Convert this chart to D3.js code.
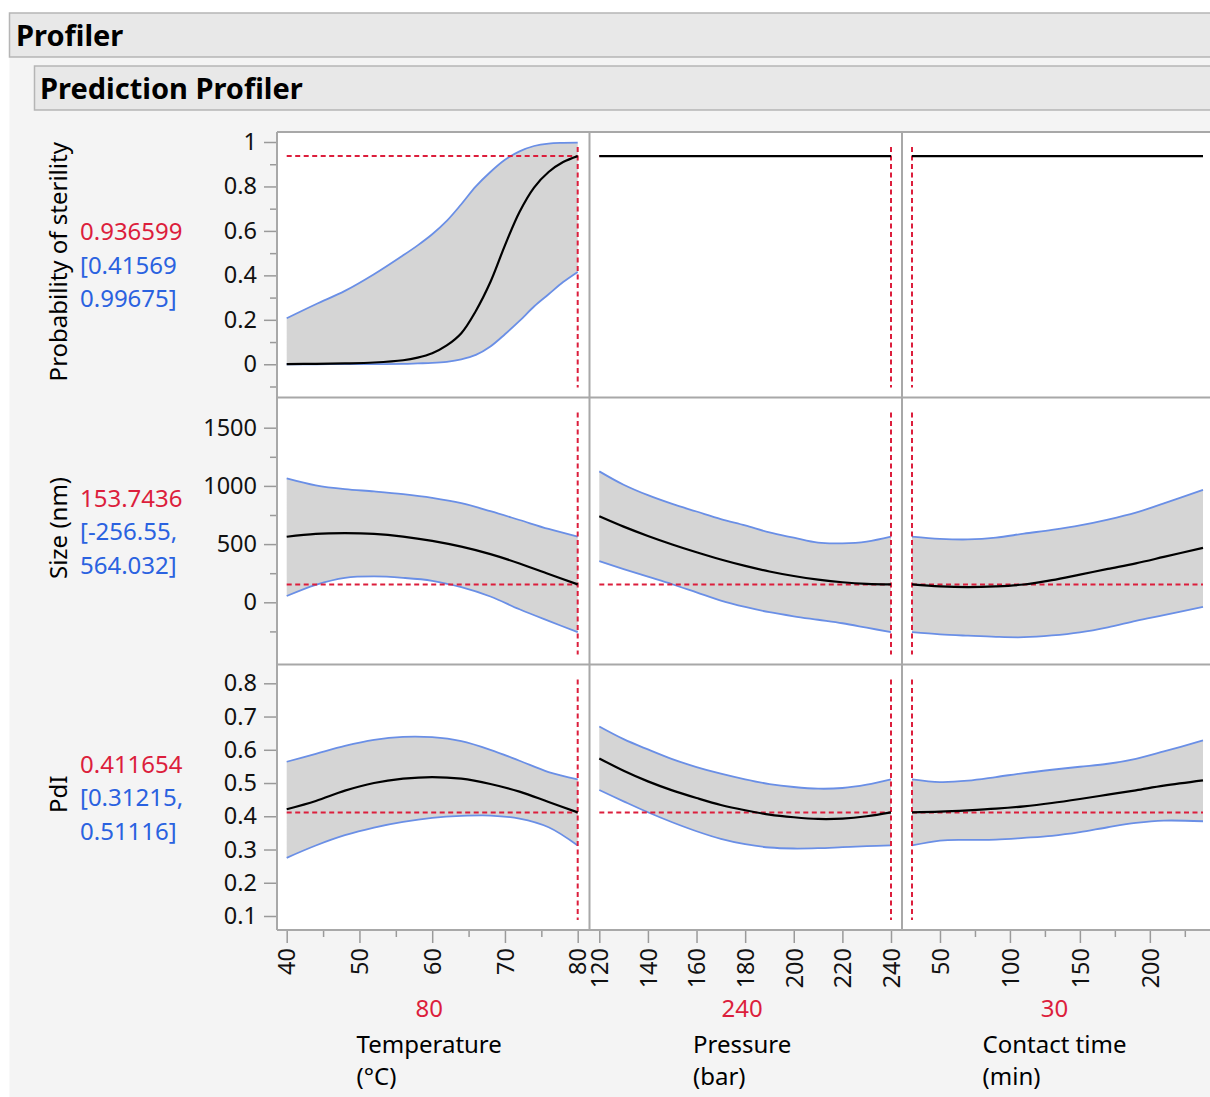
<!DOCTYPE html>
<html>
<head>
<meta charset="utf-8">
<script src="https://cdn.jsdelivr.net/npm/d3@7"></script>
<style>
  body { margin: 0; background: #fff; }
  text { font-family: "Noto Sans", "Open Sans", sans-serif; }
</style>
</head>
<body>
<div id="chart"></div>
<script>
var factors = ["Temperature", "Pressure", "Contact time"],
    factorUnits = ["(°C)", "(bar)", "(min)"],
    factorCurrent = ["80", "240", "30"],
    responses = ["Probability of sterility", "Size (nm)", "PdI"],
    responseValue = [0.936599, 153.7436, 0.411654],
    responseText = ["0.936599", "153.7436", "0.411654"],
    responseCI = [["[0.41569", "0.99675]"], ["[-256.55,", "564.032]"], ["[0.31215,", "0.51116]"]];

// probability of sterility vs temperature
var probTempX = [40, 44, 48, 52, 56, 58, 60, 62, 64, 66, 68, 70, 72, 74, 76, 78, 80];
var probTempMid = [0.001, 0.002, 0.004, 0.008, 0.018, 0.03, 0.05, 0.085, 0.14, 0.24, 0.37, 0.535, 0.685, 0.795, 0.865, 0.91, 0.936599];
var probTempLo = [0.0, 0.0, 0.001, 0.001, 0.002, 0.004, 0.006, 0.011, 0.022, 0.042, 0.08, 0.135, 0.195, 0.26, 0.315, 0.37, 0.41569];
var probTempHi = [0.207, 0.27, 0.33, 0.405, 0.49, 0.535, 0.585, 0.645, 0.72, 0.80, 0.865, 0.92, 0.958, 0.982, 0.993, 0.996, 0.99675];
// probability is flat in pressure and contact time
var probPressX = [120, 240], probPressMid = [0.936599, 0.936599];
var probContX = [30, 238], probContMid = [0.936599, 0.936599];

var tempX = [40, 44, 48, 52, 56, 60, 64, 68, 72, 76, 80];
var pressX = [120, 130, 140, 150, 160, 170, 180, 190, 200, 210, 220, 230, 240];
var contX = [30, 50, 70, 90, 110, 130, 150, 170, 190, 210, 238];

// size (nm)
var sizeTempMid = [563, 588, 594, 588, 565, 528, 478, 414, 334, 243, 153.7];
var sizeTempLo = [54, 150, 210, 222, 210, 185, 130, 50, -60, -160, -256.55];
var sizeTempHi = [1065, 1005, 972, 953, 930, 898, 852, 783, 707, 630, 564.03];
var sizePressMid = [739, 650, 570, 497, 430, 368, 313, 265, 226, 195, 172, 158, 153.7];
var sizePressLo = [353, 285, 220, 155, 85, 15, -40, -85, -120, -150, -180, -218, -256.55];
var sizePressHi = [1125, 1010, 920, 845, 780, 715, 660, 600, 555, 512, 507, 522, 564.03];
var sizeContMid = [153.7, 137, 131, 137, 153, 190, 238, 287, 335, 390, 468];
var sizeContLo = [-256.55, -275, -287, -297, -300, -285, -258, -215, -160, -110, -39];
var sizeContHi = [564.03, 545, 540, 555, 590, 622, 660, 710, 770, 850, 965];

// PdI
var pdiTempMid = [0.421, 0.446, 0.477, 0.500, 0.513, 0.518, 0.513, 0.497, 0.474, 0.443, 0.4117];
var pdiTempLo = [0.275, 0.312, 0.343, 0.366, 0.383, 0.395, 0.401, 0.402, 0.393, 0.367, 0.31215];
var pdiTempHi = [0.564, 0.588, 0.612, 0.630, 0.639, 0.638, 0.626, 0.600, 0.567, 0.533, 0.51116];
var pdiPressMid = [0.574, 0.537, 0.505, 0.478, 0.455, 0.434, 0.418, 0.405, 0.397, 0.392, 0.393, 0.400, 0.4117];
var pdiPressLo = [0.479, 0.445, 0.412, 0.382, 0.355, 0.332, 0.316, 0.306, 0.303, 0.304, 0.307, 0.310, 0.31215];
var pdiPressHi = [0.670, 0.632, 0.601, 0.572, 0.548, 0.528, 0.511, 0.497, 0.488, 0.483, 0.485, 0.495, 0.51116];
var pdiContMid = [0.4117, 0.414, 0.418, 0.423, 0.430, 0.440, 0.452, 0.465, 0.478, 0.492, 0.508];
var pdiContLo = [0.31215, 0.327, 0.329, 0.330, 0.335, 0.341, 0.352, 0.367, 0.380, 0.387, 0.385];
var pdiContHi = [0.51116, 0.503, 0.507, 0.518, 0.530, 0.540, 0.549, 0.558, 0.573, 0.595, 0.628];

// axes
var xDomains = [[40, 80], [120, 240], [30, 238]],
    xTicks = [[40, 50, 60, 70, 80], [120, 140, 160, 180, 200, 220, 240], [50, 100, 150, 200]],
    xMinor = [[45, 55, 65, 75], [], [75, 125, 175, 225]],
    yDomains = [[-0.1, 1.0], [-250, 1500], [0.1, 0.8]],
    yTicks = [[0, 0.2, 0.4, 0.6, 0.8, 1], [0, 500, 1000, 1500], [0.1, 0.2, 0.3, 0.4, 0.5, 0.6, 0.7, 0.8]],
    yMinor = [[-0.1, 0.1, 0.3, 0.5, 0.7, 0.9], [-250, 250, 750, 1250], []];

// ---- layout ----
var width = 1210, height = 1097,
    colEdges = [277, 589.5, 902, 1216],
    rowEdges = [132, 397.5, 664.5, 930],
    xRanges = [[286.7, 577.7], [599.3, 891], [912, 1203]],
    yRanges = [[386.5, 142], [631.4, 427.7], [916, 683.3]],
    red = "#dc1e3c", blue = "#2a62e0", bandBlue = "#6a8fe6", frameGray = "#a8a8a8";

function zip(xs, ys) { return xs.map(function(x, i) { return [x, ys[i]]; }); }
function band(xs, lo, hi) { return xs.map(function(x, i) { return { x: x, lo: lo[i], hi: hi[i] }; }); }

var panels = [
  [ { x: probTempX, mid: probTempMid, lo: probTempLo, hi: probTempHi },
    { x: probPressX, mid: probPressMid },
    { x: probContX, mid: probContMid } ],
  [ { x: tempX, mid: sizeTempMid, lo: sizeTempLo, hi: sizeTempHi },
    { x: pressX, mid: sizePressMid, lo: sizePressLo, hi: sizePressHi },
    { x: contX, mid: sizeContMid, lo: sizeContLo, hi: sizeContHi } ],
  [ { x: tempX, mid: pdiTempMid, lo: pdiTempLo, hi: pdiTempHi },
    { x: pressX, mid: pdiPressMid, lo: pdiPressLo, hi: pdiPressHi },
    { x: contX, mid: pdiContMid, lo: pdiContLo, hi: pdiContHi } ]
];

var xScales = xDomains.map(function(d, i) { return d3.scaleLinear().domain(d).range(xRanges[i]); });
var yScales = yDomains.map(function(d, i) { return d3.scaleLinear().domain(d).range(yRanges[i]); });

var svg = d3.select("#chart").append("svg")
    .attr("width", width)
    .attr("height", height);

// backgrounds and header boxes
svg.append("rect").attr("x", 0).attr("y", 0).attr("width", width).attr("height", height).style("fill", "#fff");
svg.append("rect").attr("x", 9.5).attr("y", 13).attr("width", width).attr("height", height).style("fill", "#f4f4f4");
svg.append("rect").attr("x", 9.5).attr("y", 13).attr("width", width + 5).attr("height", 44)
    .style("fill", "#e8e8e8").style("stroke", "#b5b5b5").style("stroke-width", 1.5);
svg.append("rect").attr("x", 34.5).attr("y", 66).attr("width", width).attr("height", 44)
    .style("fill", "#e8e8e8").style("stroke", "#b5b5b5").style("stroke-width", 1.5);
svg.append("text").text("Profiler").attr("x", 16).attr("y", 46)
    .style("font-size", "29px").style("font-weight", "bold");
svg.append("text").text("Prediction Profiler").attr("x", 40).attr("y", 99)
    .style("font-size", "29px").style("font-weight", "bold");

// white plot area
svg.append("rect")
    .attr("x", colEdges[0]).attr("y", rowEdges[0])
    .attr("width", colEdges[3] - colEdges[0]).attr("height", rowEdges[3] - rowEdges[0])
    .style("fill", "#fff");

var smooth = d3.curveCatmullRom.alpha(0.5);
var area = d3.area().curve(smooth);
var line = d3.line().curve(smooth);

function styleAxis(g) {
  g.selectAll(".domain").remove();
  g.selectAll("line").style("stroke", "#9a9a9a").style("stroke-width", 1.5);
  g.selectAll("text").style("font-size", "23.5px").style("fill", "#111")
      .style("font-family", '"Noto Sans", sans-serif');
}

panels.forEach(function(row, r) {
  var y = yScales[r];
  row.forEach(function(p, c) {
    var x = xScales[c];
    var g = svg.append("g").attr("class", "panel");

    if (p.lo) {
      var pts = band(p.x, p.lo, p.hi);
      g.append("path")
          .attr("d", area.x(function(d) { return x(d.x); }).y0(function(d) { return y(d.lo); }).y1(function(d) { return y(d.hi); })(pts))
          .style("fill", "#d5d5d5");
      [p.lo, p.hi].forEach(function(s) {
        g.append("path")
            .attr("d", line.x(function(d) { return x(d[0]); }).y(function(d) { return y(d[1]); })(zip(p.x, s)))
            .style("fill", "none").style("stroke", bandBlue).style("stroke-width", 1.8);
      });
    }

    // current-setting cross hairs
    g.append("line")
        .attr("x1", x(xDomains[c][0])).attr("x2", x(p.x[p.x.length - 1]))
        .attr("y1", y(responseValue[r])).attr("y2", y(responseValue[r]))
        .style("stroke", red).style("stroke-width", 2).style("stroke-dasharray", "5,3.5");
    var cur = +factorCurrent[c];
    g.append("line")
        .attr("x1", x(cur)).attr("x2", x(cur))
        .attr("y1", rowEdges[r] + 15).attr("y2", rowEdges[r + 1] - 10)
        .style("stroke", red).style("stroke-width", 2).style("stroke-dasharray", "5,3.5");

    g.append("path")
        .attr("d", line.x(function(d) { return x(d[0]); }).y(function(d) { return y(d[1]); })(zip(p.x, p.mid)))
        .style("fill", "none").style("stroke", "#000").style("stroke-width", 2.2);
  });

  // y axis: major and minor ticks in separate groups
  var ya = svg.append("g").attr("transform", "translate(" + colEdges[0] + ",0)");
  ya.call(d3.axisLeft(y).tickValues(yTicks[r]).tickSize(13).tickPadding(7)
      .tickFormat(function(d) { return d3.format("~g")(d); }));
  styleAxis(ya);
  var ym = svg.append("g").attr("transform", "translate(" + colEdges[0] + ",0)");
  ym.call(d3.axisLeft(y).tickValues(yMinor[r]).tickSize(7).tickFormat(""));
  styleAxis(ym);

  // response title and values
  var cy = (rowEdges[r] + rowEdges[r + 1]) / 2;
  svg.append("text").text(responses[r])
      .attr("transform", "translate(67," + (cy - 3) + ") rotate(-90)")
      .style("text-anchor", "middle").style("font-size", "24px");
  svg.append("text").text(responseText[r]).attr("x", 80).attr("y", cy - 24.5)
      .style("fill", red).style("font-size", "24px");
  responseCI[r].forEach(function(t, i) {
    svg.append("text").text(t).attr("x", 80).attr("y", cy + 9 + i * 33.5)
        .style("fill", blue).style("font-size", "24px");
  });
});

// x axes and factor labels
xScales.forEach(function(x, c) {
  var xa = svg.append("g").attr("transform", "translate(0," + rowEdges[3] + ")");
  xa.call(d3.axisBottom(x).tickValues(xTicks[c]).tickSize(13).tickFormat(d3.format("d")));
  styleAxis(xa);
  xa.selectAll("text")
      .attr("x", -18).attr("y", 0).attr("dy", "0.35em")
      .attr("transform", "rotate(-90)")
      .style("text-anchor", "end");
  var xm = svg.append("g").attr("transform", "translate(0," + rowEdges[3] + ")");
  xm.call(d3.axisBottom(x).tickValues(xMinor[c]).tickSize(7).tickFormat(""));
  styleAxis(xm);

  var cx = (xRanges[c][0] + xRanges[c][1]) / 2 - 3;
  svg.append("text").text(factorCurrent[c]).attr("x", cx).attr("y", 1017)
      .style("fill", red).style("font-size", "24px").style("text-anchor", "middle");
  var name = svg.append("text").text(factors[c]).attr("y", 1053).style("font-size", "24px");
  var unit = svg.append("text").text(factorUnits[c]).attr("y", 1085).style("font-size", "24px");
  var w = Math.max(name.node().getComputedTextLength(), unit.node().getComputedTextLength());
  name.attr("x", cx - w / 2);
  unit.attr("x", cx - w / 2);
});

// panel frame lines
var frame = svg.append("g").style("stroke", frameGray).style("stroke-width", 2);
colEdges.slice(0, 3).forEach(function(cx) {
  frame.append("line").attr("x1", cx).attr("x2", cx).attr("y1", rowEdges[0]).attr("y2", rowEdges[3]);
});
rowEdges.forEach(function(ry) {
  frame.append("line").attr("x1", colEdges[0]).attr("x2", width).attr("y1", ry).attr("y2", ry);
});
</script>
</body>
</html>
